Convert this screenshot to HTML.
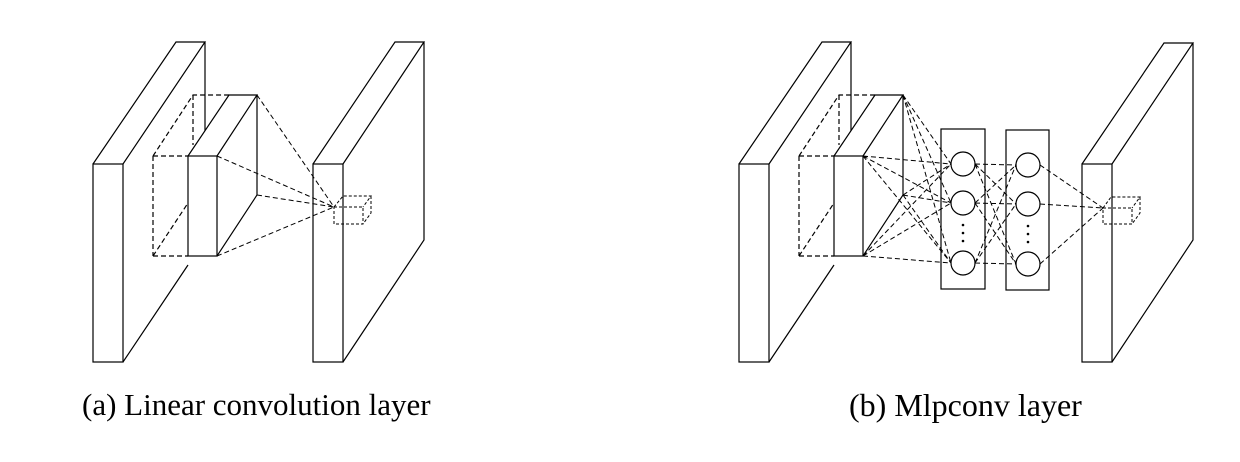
<!DOCTYPE html>
<html><head><style>body{margin:0;background:#fff;position:relative;width:1240px;height:462px;overflow:hidden}svg{display:block;position:absolute;left:0;top:0}.cap{position:absolute;font-family:"Liberation Serif","Times New Roman",Times,serif;line-height:36px;white-space:nowrap;color:#000}</style></head><body>
<svg width="1240" height="462" viewBox="0 0 1240 462" xmlns="http://www.w3.org/2000/svg" fill="none" stroke="#000" stroke-width="1.2">
<defs>
<g id="base">
  <polygon points="93,164 176,42 205,42 205,130 123,164" fill="#fff" stroke="none"/>
  <path d="M93,164 L176,42 L205,42 L123,164 M205,42 L205,143 M123,362 L188,265"/>
  <rect x="93" y="164" width="30" height="198" fill="#fff"/>
  <path stroke-dasharray="5,3" d="M153,156 L188,156 M153,256 L188,256 M153,156 L153,256 M153,156 L193,95 L229,95 M193,95 L193,145 M153,256 L188,203"/>
  <polygon points="188,156 229,95 257,95 257,195 217,256 188,256" fill="#fff" stroke="none"/>
  <path d="M188,156 L229,95 L257,95 L217,156 M257,95 L257,195 L217,256"/>
  <rect x="188" y="156" width="29" height="100" fill="#fff"/>
</g>
</defs>
<use href="#base"/>
<path d="M313,164 L395,42 L424,42 L343,164 M424,42 L424,240 L343,362"/>
<rect x="313" y="164" width="30" height="198" fill="#fff"/>
<g stroke-dasharray="5,3" stroke-width="1">
<path d="M217,156 L334,207 M257,95 L334,207 M257,195 L334,207 M217,256 L334,207"/>
</g>
<g stroke-dasharray="3,2" stroke-width="1">
<rect x="334" y="207" width="29" height="17"/>
<path d="M334,207 L343,196 L371,196 L363,207 M371,196 L371,213 L363,224"/>
</g>

<use href="#base" transform="translate(646,0)"/>
<path d="M1082,164 L1164,43 L1193,43 L1112,164 M1193,43 L1193,240 L1112,362"/>
<rect x="1082" y="164" width="30" height="198" fill="#fff"/>
<rect x="941" y="129" width="44" height="160"/>
<rect x="1006" y="130" width="43" height="160"/>
<g stroke-dasharray="5,3" stroke-width="1">
<path d="M863,156 L951,164 M863,156 L951,203 M863,156 L951,263 M903,95 L951,164 M903,95 L951,203 M903,95 L951,263 M903,195 L951,164 M903,195 L951,203 M903,195 L951,263 M863,256 L951,164 M863,256 L951,203 M863,256 L951,263"/>
<path d="M975,164 L1016,165 M975,164 L1016,204 M975,164 L1016,264 M975,203 L1016,165 M975,203 L1016,204 M975,203 L1016,264 M975,263 L1016,165 M975,263 L1016,204 M975,263 L1016,264"/>
<path d="M1040,165 L1103,208 M1040,204 L1103,208 M1040,264 L1103,208"/>
</g>
<g fill="#fff">
<circle cx="963" cy="164" r="12"/><circle cx="963" cy="203" r="12"/><circle cx="963" cy="263" r="12"/>
<circle cx="1028" cy="165" r="12"/><circle cx="1028" cy="204" r="12"/><circle cx="1028" cy="264" r="12"/>
</g>
<g fill="#000" stroke="none">
<circle cx="963" cy="225" r="1.3"/><circle cx="963" cy="233" r="1.3"/><circle cx="963" cy="241" r="1.3"/>
<circle cx="1028" cy="226" r="1.3"/><circle cx="1028" cy="234" r="1.3"/><circle cx="1028" cy="242" r="1.3"/>
</g>
<g stroke-dasharray="3,2" stroke-width="1">
<rect x="1103" y="208" width="29" height="16"/>
<path d="M1103,208 L1111,197 L1140,197 L1132,208 M1140,197 L1140,213 L1132,224"/>
</g>
</svg>
<div class="cap" style="left:82px;font-size:31px;top:387px">(a) Linear convolution layer</div>
<div class="cap" style="left:849px;font-size:32px;top:387px">(b) Mlpconv layer</div>
</body></html>
